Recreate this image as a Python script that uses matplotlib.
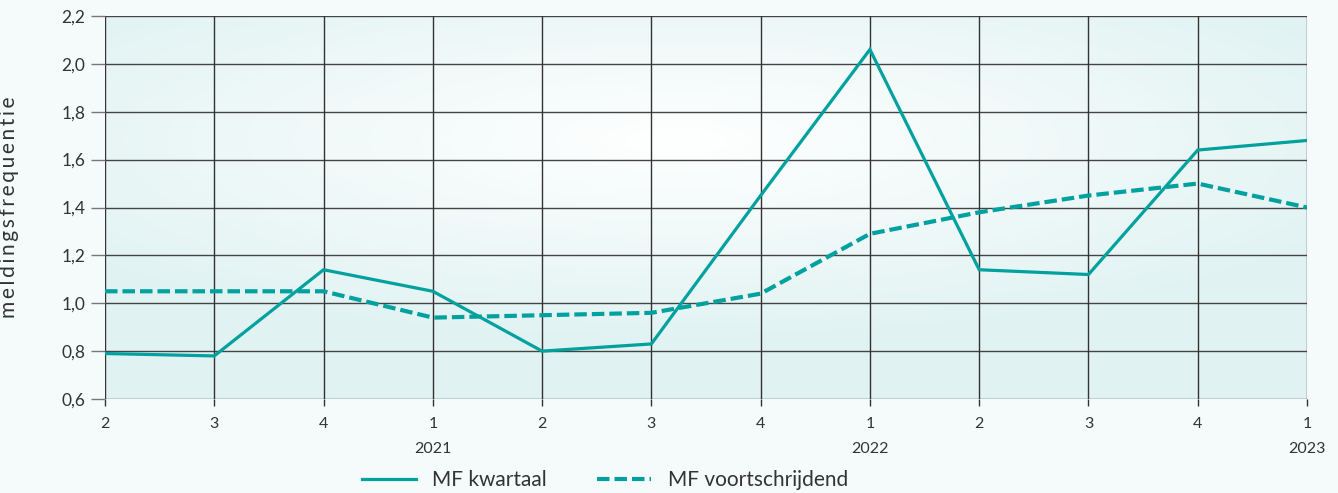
import matplotlib.pyplot as plt
import numpy as np

quarters = ['2', '3', '4', '1', '2', '3', '4', '1', '2', '3', '4', '1']
years = {3: '2021', 7: '2022', 11: '2023'}
mf_kwartaal = [0.79, 0.78, 1.14, 1.05, 0.80, 0.83, 1.45, 2.06, 1.14, 1.12, 1.64, 1.68]
mf_voortschrijdend = [1.05, 1.05, 1.05, 0.94, 0.95, 0.96, 1.04, 1.29, 1.38, 1.45, 1.50, 1.40]
yticks = [0.6, 0.8, 1.0, 1.2, 1.4, 1.6, 1.8, 2.0, 2.2]

teal = '#00a19e'
bg = '#f5fafb'


def main():
    plt.rcParams['font.family'] = ['Lato', 'DejaVu Sans']
    fig = plt.figure(figsize=(13.38, 4.93), dpi=100, facecolor=bg)
    ax = fig.add_axes([105 / 1338, 1 - 399 / 493, 1202 / 1338, 383 / 493])

    x = np.arange(len(quarters))
    n = len(quarters) - 1

    # radial gradient background
    gx, gy = np.meshgrid(np.linspace(-1, 1, 300), np.linspace(-1, 1, 120))
    r = np.sqrt((gx + 0.05) ** 2 + ((gy - 0.35) * 1.2) ** 2)
    r = np.clip(r / 1.3, 0, 1)
    c0 = np.array([1.0, 1.0, 1.0])
    c1 = np.array([0.88, 0.95, 0.95])
    img = c0[None, None, :] * (1 - r[..., None]) + c1[None, None, :] * r[..., None]
    ax.imshow(img, extent=[0, n, 0.6, 2.2], aspect='auto', origin='lower', zorder=0)

    for v in yticks:
        ax.axhline(v, color='#444444', lw=1.0, zorder=1)
    for xi in x:
        ax.axvline(xi, color='#333333', lw=1.0, zorder=1)

    ax.plot(x, mf_kwartaal, color=teal, lw=2.3, zorder=3, label='MF kwartaal',
            solid_joinstyle='miter')
    ax.plot(x, mf_voortschrijdend, color=teal, lw=3.0, zorder=3, label='MF voortschrijdend',
            linestyle=(0, (3, 1.2)))

    ax.set_xlim(0, n)
    ax.set_ylim(0.6, 2.2)
    ax.set_yticks(yticks)
    ax.set_yticklabels([f'{v:.1f}'.replace('.', ',') for v in yticks])
    ax.set_xticks(x)
    ax.set_xticklabels(quarters)
    ax.tick_params(axis='y', length=10, width=1.0, color='#777777', labelsize=12.5,
                   labelcolor='#333333', pad=4)
    ax.tick_params(axis='x', length=5, width=1.0, color='#333333', labelsize=11.5,
                   labelcolor='#333333', pad=8)
    for s in ax.spines.values():
        s.set_visible(False)

    for i, yr in years.items():
        ax.text(x[i], -0.13, yr, transform=ax.get_xaxis_transform(), ha='center',
                va='center', fontsize=11.5, color='#333333')

    ax.set_ylabel('\u2009'.join('meldingsfrequentie'), fontsize=15, color='#333333')
    ax.yaxis.set_label_coords(-86 / 1202, 0.5)

    fig.legend(loc='center', bbox_to_anchor=(605 / 1338, 1 - 480 / 493), ncol=2,
               frameon=False, fontsize=15, handlelength=2.6, columnspacing=2.4,
               handletextpad=0.8, labelcolor='#333333')
    fig.savefig('out.png', dpi=100, facecolor=bg)


if __name__ == '__main__':
    main()
